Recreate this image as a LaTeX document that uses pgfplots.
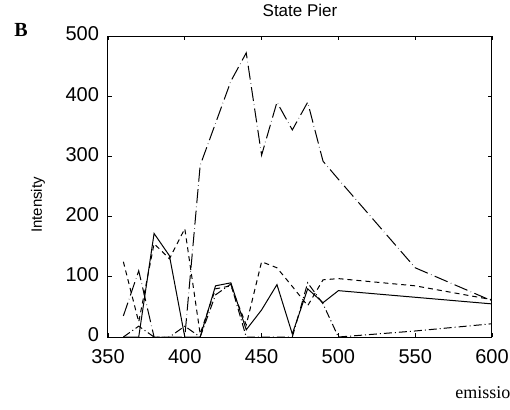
\documentclass[border=0pt]{standalone}
\usepackage{pgfplots}
\pgfplotsset{compat=1.18}
\usepackage{fontspec}
\setmainfont{Liberation Sans}
\newfontfamily\seriffont{Liberation Serif}
\begin{document}
\begin{tikzpicture}
\begin{axis}[
  scale only axis, width=192pt, height=150.5pt,
  at={(0,0)}, anchor=south west,
  xmin=350, xmax=600, ymin=0, ymax=500,
  xtick={350,400,...,600}, ytick={0,100,...,500},
  tick align=inside, major tick length=2pt,
  tick style={black, line width=0.4pt},
  axis line style={line width=0.5pt},
  /pgf/number format/assume math mode=true,
  ticklabel style={font=\fontsize{10}{12}\selectfont},
  xticklabel style={yshift=-2.5pt},
  yticklabel style={xshift=-1pt, yshift=1pt},
  clip=true,
]
\addplot[black, line width=0.5pt] coordinates {
(360,0)(370,0)(380,172)(390,135)(400,0)(410,0)(420,85)(430,90)(440,12)(450,45)(460,87)(470,5)(480,80)(490,57)(500,77)(550,66)(600,55)};
\addplot[black, line width=0.5pt, dash pattern=on 7pt off 1.8pt on 0.2pt off 1.8pt] coordinates {
(360,35)(370,110)(380,0)(390,0)(400,0)(410,285)(420,355)(430,425)(440,472)(450,302)(460,390)(470,344)(480,390)(490,292)(500,262)(550,115)(600,60)};
\addplot[black, line width=0.5pt, dash pattern=on 2.5pt off 2pt] coordinates {
(360,125)(370,25)(380,155)(390,130)(400,180)(410,5)(420,80)(430,85)(440,20)(450,125)(460,115)(470,84)(480,52)(490,95)(500,97)(550,85)(600,62)};
\addplot[black, line width=0.5pt, dash pattern=on 4pt off 1.5pt on 0.5pt off 1.5pt] coordinates {
(360,0)(370,18)(380,0)(390,0)(400,18)(410,0)(420,70)(430,88)(440,0)(450,0)(460,0)(470,0)(480,90)(490,55)(500,0)(550,10)(600,22)};
\end{axis}
\node[font=\fontsize{8.5}{10}\selectfont] at (96pt,163.5pt) {State Pier};
\node[font=\fontsize{7.5}{9}\selectfont, rotate=90] at (-35pt,66pt) {Intensity};
\node[font=\seriffont\bfseries\fontsize{10}{12}\selectfont] at (-43.5pt,153.5pt) {B};
\node[font=\seriffont\fontsize{9}{11}\selectfont, anchor=west, inner sep=0pt] at (173.5pt,-28pt) {emission};
\pgfresetboundingbox
\useasboundingbox (-54pt,-36pt) rectangle (201pt,168.5pt);
\end{tikzpicture}
\end{document}
